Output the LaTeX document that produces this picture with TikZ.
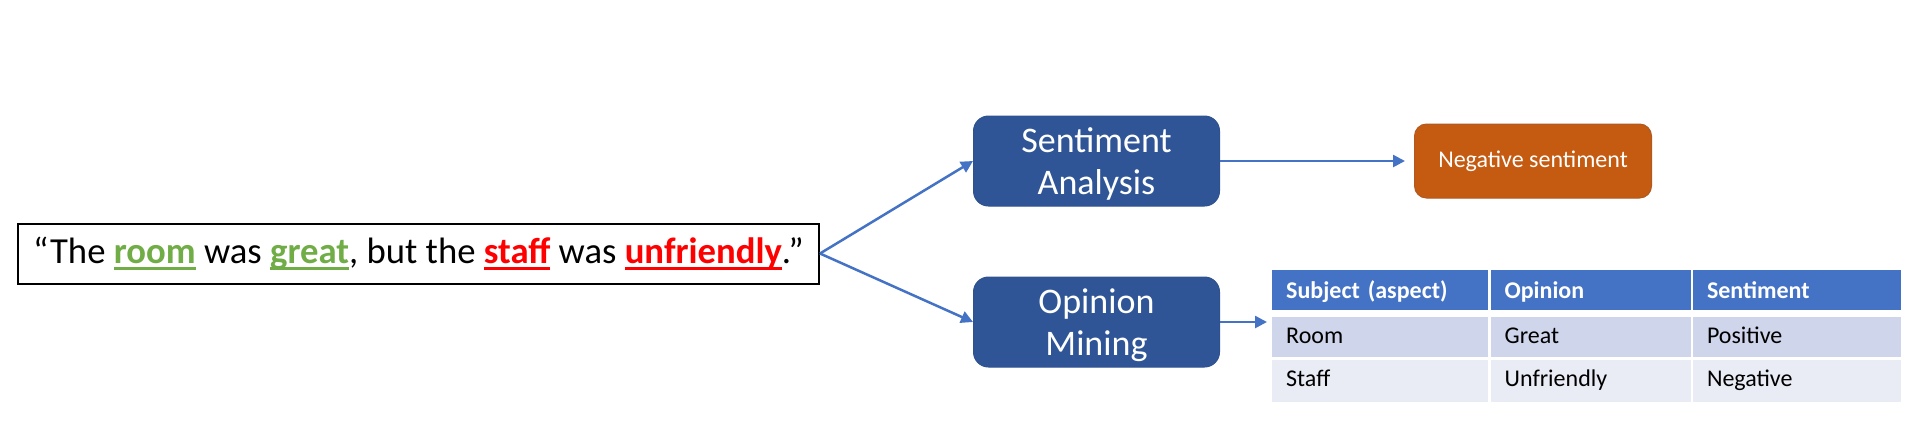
\documentclass[tikz,border=0pt]{standalone}
\usepackage{fontspec}
\setmainfont{Carlito}
\usetikzlibrary{arrows.meta,calc,positioning}
\definecolor{blockColor}{RGB}{47,85,151}
\definecolor{blockBorder}{RGB}{47,82,143}
\definecolor{resultColor}{RGB}{197,90,17}
\definecolor{resultBorder}{RGB}{174,90,33}
\definecolor{arrowColor}{RGB}{68,114,196}
\definecolor{headColor}{RGB}{68,114,196}
\definecolor{oddRowColor}{RGB}{207,213,234}
\definecolor{evenRowColor}{RGB}{233,235,245}
\definecolor{posColor}{RGB}{112,173,71}
\definecolor{negColor}{RGB}{255,0,0}
\newcommand{\uword}[2]{{\color{#1}\bfseries\setbox0\hbox{#2}\rlap{\rule[-6pt]{\wd0}{2.3pt}}\box0}}
\tikzset{sentence/.style={draw, line width=2pt, minimum width=801pt, minimum height=60pt, inner sep=0pt, font=\fontsize{36.7}{44}\selectfont}}
\tikzset{block/.style={fill=blockColor, draw=blockBorder, line width=1pt, text=white, align=center, text depth=0pt, minimum width=246pt, minimum height=90pt, rounded corners=15pt, font=\fontsize{36}{42}\selectfont}}
\tikzset{result/.style={block, fill=resultColor, draw=resultBorder, minimum width=237pt, minimum height=74pt, rounded corners=12pt, font=\fontsize{24}{29}\selectfont}}
\tikzset{cell/.style={inner xsep=14pt, inner ysep=0pt, align=left, text height=17pt, text depth=5pt, font=\fontsize{24}{29}\selectfont}}
\tikzset{headcell/.style={cell, fill=headColor, text=white, text height=22pt, font=\fontsize{24}{29}\selectfont\bfseries, minimum height=40pt}}
\tikzset{oddcell/.style={cell, fill=oddRowColor, minimum height=40pt}}
\tikzset{evencell/.style={cell, fill=evenRowColor, minimum height=42pt}}

\begin{document}
\begin{tikzpicture}[node distance=2pt]
\useasboundingbox (0,0) rectangle (1914pt,-424pt);
% Nodes

    \node (Sentence) [sentence] at (418.5pt,-253.5pt) {“The \uword{posColor}{room} was \uword{posColor}{great}, but the \uword{negColor}{staff} was \uword{negColor}{unfriendly}.”};

    \node (SentimentAnalysis) [block, right=153pt of Sentence, yshift=92.5pt] {Sentiment\\ Analysis};

    \node (OpinionMining) [block, below=70pt of SentimentAnalysis] {Opinion\\ Mining};

    \node (NegativeSentiment) [result, text depth=3pt, right=194pt of SentimentAnalysis] {Negative sentiment};


    \node (SubjectHead) [headcell, text width=188pt, right=52pt of OpinionMining, yshift=32pt] {Subject (aspect)};
    \node (OpinionHead) [headcell, text width=172pt, right=of SubjectHead] {Opinion};
    \node (SentimentHead) [headcell, text width=180pt, right=of OpinionHead] {Sentiment};

    \node (RoomSubject) [oddcell, text width=188pt, below=7pt of SubjectHead] {Room};
    \node (RoomOpinion) [oddcell, text width=172pt, right=of RoomSubject] {Great};
    \node (RoomSentiment) [oddcell, text width=180pt, right=of RoomOpinion] {Positive};

    \node (StaffSubject) [evencell, text width=188pt, below=of RoomSubject] {Staff};
    \node (StaffOpinion) [evencell, text width=172pt, right=of StaffSubject] {Unfriendly};
    \node (StaffSentiment) [evencell, text width=180pt, right=of StaffOpinion] {Negative};

% Connectors
\begin{scope}[arrowColor, line width=2.5pt]

    \draw [-{Triangle[length=12pt,width=12pt]}] (Sentence.east) -- (SentimentAnalysis.west);
    \draw [-{Triangle[length=12pt,width=12pt]}] (Sentence.east) -- (OpinionMining.west);

    \draw [-{Triangle[length=12pt,width=12pt]}, shorten >=9pt] (SentimentAnalysis) -- (NegativeSentiment);
    \draw [-{Triangle[length=12pt,width=12pt]}, shorten >=5pt] (OpinionMining.east) -- (OpinionMining.east -| SubjectHead.west);

\end{scope}

\end{tikzpicture}
\end{document}
